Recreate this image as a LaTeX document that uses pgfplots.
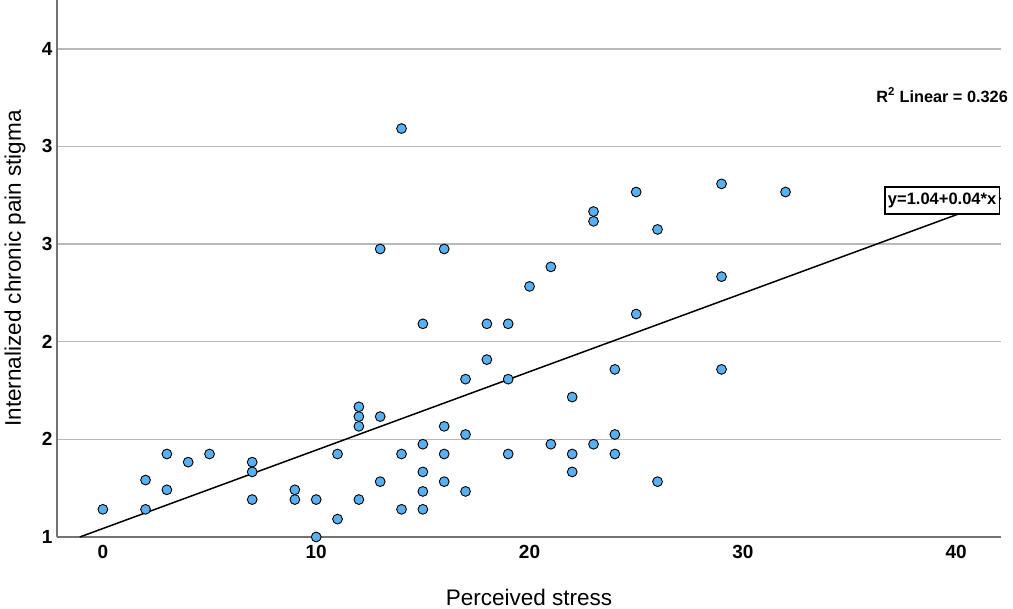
\documentclass[border=0pt]{standalone}
\usepackage{fontspec}
\setmainfont{Liberation Sans}
\usepackage{pgfplots}
\pgfplotsset{compat=1.18}
\definecolor{ptblue}{RGB}{88,176,240}
\definecolor{gridgray}{RGB}{185,185,185}
\definecolor{axgray}{RGB}{115,115,115}
\begin{document}
\begin{tikzpicture}
\useasboundingbox (0,0) rectangle (1013pt,609pt);
\begin{axis}[
  at={(57pt,72pt)}, anchor=south west,
  width=944pt, height=537pt, scale only axis,
  xmin=-2.15, xmax=42.1, ymin=1, ymax=4.3,
  axis x line*=bottom, axis y line*=left,
  axis line style={-, draw=axgray, line width=1.8pt},
  xtick={0,10,20,30,40},
  ytick={1,1.6,2.2,2.8,3.4,4},
  yticklabels={1,2,2,3,3,4},
  major tick length=0pt,
  ymajorgrids,
  grid style={gridgray, line width=1.4pt},
  /pgf/number format/assume math mode=true,
  tick label style={font=\bfseries\fontsize{19}{19}\selectfont},
  xticklabel style={yshift=-5pt},
  yticklabel style={xshift=-1pt},
  xlabel={Perceived stress},
  ylabel={Internalized chronic pain stigma},
  label style={font=\fontsize{22.5}{22.5}\selectfont},
  xlabel style={at={(axis description cs:0.5,0)}, anchor=center, yshift=-60pt},
  ylabel style={at={(axis description cs:0,0.5)}, anchor=center, yshift=42pt},
  clip=false,
]
\addplot[black, line width=1.5pt] coordinates {(-1.08,1.0) (42.1,3.081)};
\addplot[only marks, mark=*, mark size=4.9pt, mark options={fill=ptblue, draw=black, line width=0.9pt}] coordinates {
(0,1.17)
(2,1.35) (2,1.17)
(3,1.51) (3,1.29)
(4,1.46)
(5,1.51)
(7,1.46) (7,1.40) (7,1.23)
(9,1.29) (9,1.23)
(10,1.23) (10,1.00)
(11,1.51) (11,1.11)
(12,1.80) (12,1.74) (12,1.68) (12,1.23)
(13,2.77) (13,1.74) (13,1.34)
(14,3.51) (14,1.51) (14,1.17)
(15,2.31) (15,1.57) (15,1.40) (15,1.28) (15,1.17)
(16,2.77) (16,1.68) (16,1.51) (16,1.34)
(17,1.97) (17,1.63) (17,1.28)
(18,2.31) (18,2.09)
(19,2.31) (19,1.97) (19,1.51)
(20,2.54)
(21,2.66) (21,1.57)
(22,1.86) (22,1.51) (22,1.40)
(23,3.00) (23,2.94) (23,1.57)
(24,2.03) (24,1.63) (24,1.51)
(25,3.12) (25,2.37)
(26,2.89) (26,1.34)
(29,3.17) (29,2.60) (29,2.03)
(32,3.12)
};
\node[draw=black, line width=1.2pt, fill=white, inner xsep=3pt, inner ysep=6pt, font=\bfseries\fontsize{16.5}{16.5}\selectfont] at (axis cs:39.34,3.068) {y=1.04+0.04*x};
\node[anchor=east, inner sep=0pt, font=\bfseries\fontsize{16.3}{16.3}\selectfont] at (axis cs:42.43,3.716) {R\textsuperscript{2} Linear = 0.326};
\end{axis}
\end{tikzpicture}
\end{document}
